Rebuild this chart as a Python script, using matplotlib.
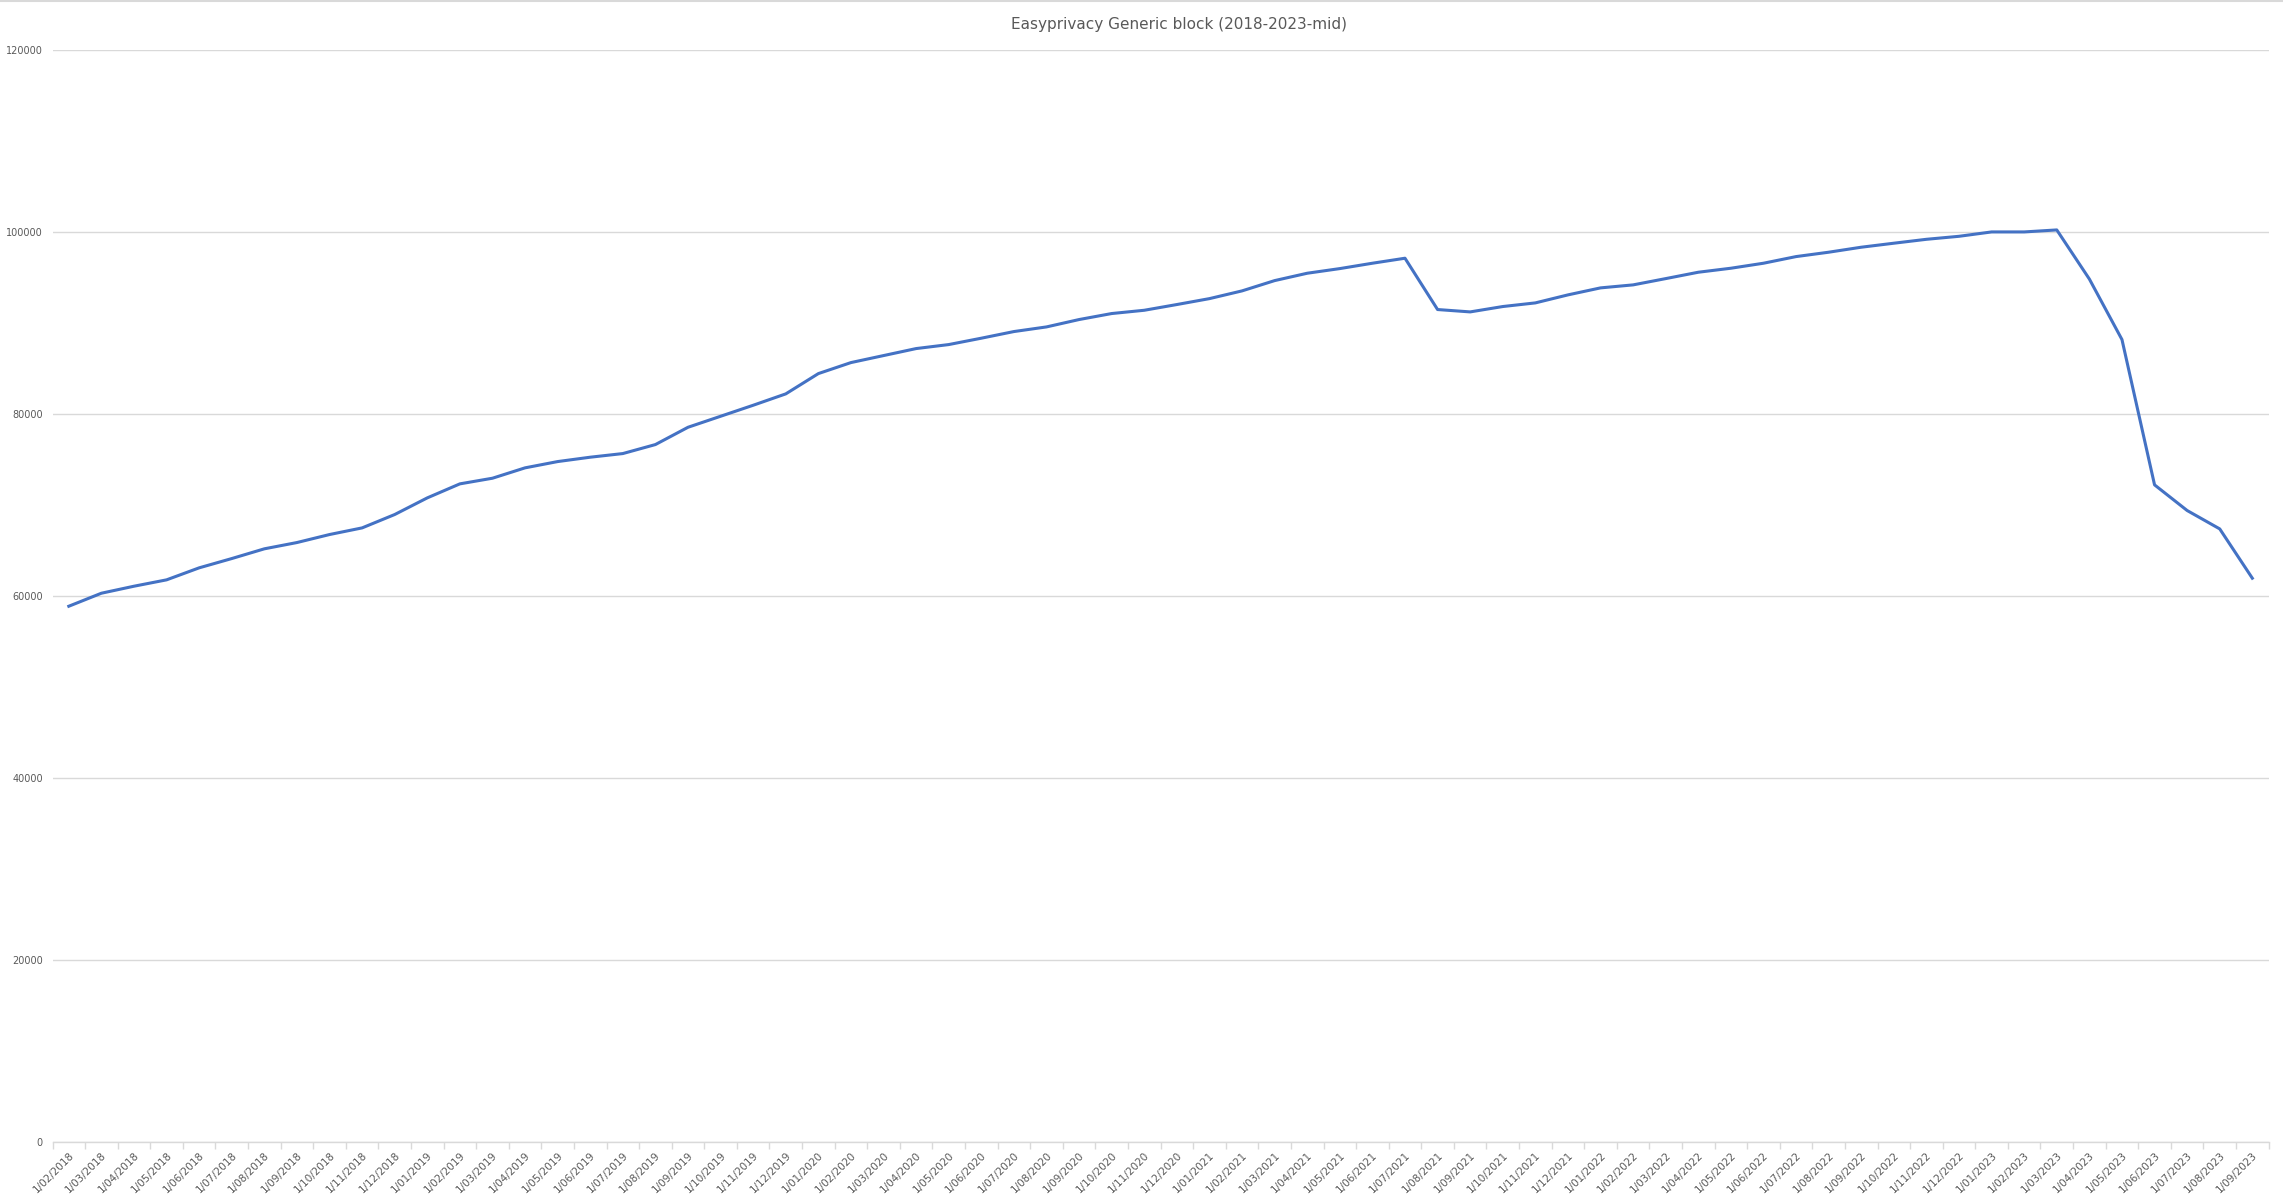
import numpy as np
import matplotlib.pyplot as plt
from matplotlib.lines import Line2D

# monthly snapshots, Feb 2018 .. Sep 2023
years = [2018] * 11 + [2019] * 12 + [2020] * 12 + [2021] * 12 + [2022] * 12 + [2023] * 9
month_nums = list(range(2, 13)) + list(range(1, 13)) * 4 + list(range(1, 10))
labels = [f"1/{m:02d}/{y}" for m, y in zip(month_nums, years)]

rules = [
    58860, 60290, 61060, 61760, 63080, 64100, 65170, 65860, 66740, 67470,
    68940, 70770, 72310, 72930, 74070, 74760, 75240, 75640, 76630, 78530,
    79740, 80950, 82200, 84430, 85640, 86410, 87180, 87620, 88320, 89050,
    89560, 90370, 91030, 91390, 92020, 92670, 93520, 94650, 95460, 95970,
    96560, 97110, 91470, 91210, 91800, 92200, 93080, 93850, 94180, 94870,
    95570, 96010, 96560, 97290, 97770, 98320, 98760, 99190, 99520, 100000,
    100000, 100220, 94820, 88170, 72200, 69380, 67360, 61940,
]

grey_text = "#595959"
grid_col = "#d9d9d9"

fig = plt.figure(figsize=(22.83, 12.04), dpi=100)
ax = fig.add_axes([0.023, 0.0517, 0.9707, 0.9068])

x = np.arange(len(rules))
ax.plot(x, rules, color="#4472C4", linewidth=2.2, solid_joinstyle="round")

ax.set_xlim(-0.5, len(rules) - 0.5)
ax.set_ylim(0, 120000)
ax.set_yticks(np.arange(0, 120001, 20000))
ax.yaxis.grid(True, color=grid_col, linewidth=1)
ax.set_axisbelow(True)

for s in ["top", "right", "left"]:
    ax.spines[s].set_visible(False)
ax.spines["bottom"].set_color(grid_col)
ax.spines["bottom"].set_linewidth(1)

ax.tick_params(axis="y", length=0, pad=7, labelsize=7, labelcolor=grey_text)
ax.set_xticks(x)
ax.set_xticklabels(labels, rotation=45, ha="right", va="top",
                   rotation_mode="anchor", fontsize=7.5, color=grey_text)
ax.tick_params(axis="x", which="major", length=0, pad=6)
ax.set_xticks(np.arange(-0.5, len(rules), 1), minor=True)
ax.tick_params(axis="x", which="minor", length=5, color=grid_col, width=1)

fig.text(0.5165, 0.9795, "Easyprivacy Generic block (2018-2023-mid)",
         ha="center", va="center", fontsize=11, color=grey_text)

# thin sheet border at the very top
fig.add_artist(Line2D([0, 1], [0.999, 0.999], color=grid_col, linewidth=1.5))

fig.savefig("out.png", dpi=100, facecolor="white")
